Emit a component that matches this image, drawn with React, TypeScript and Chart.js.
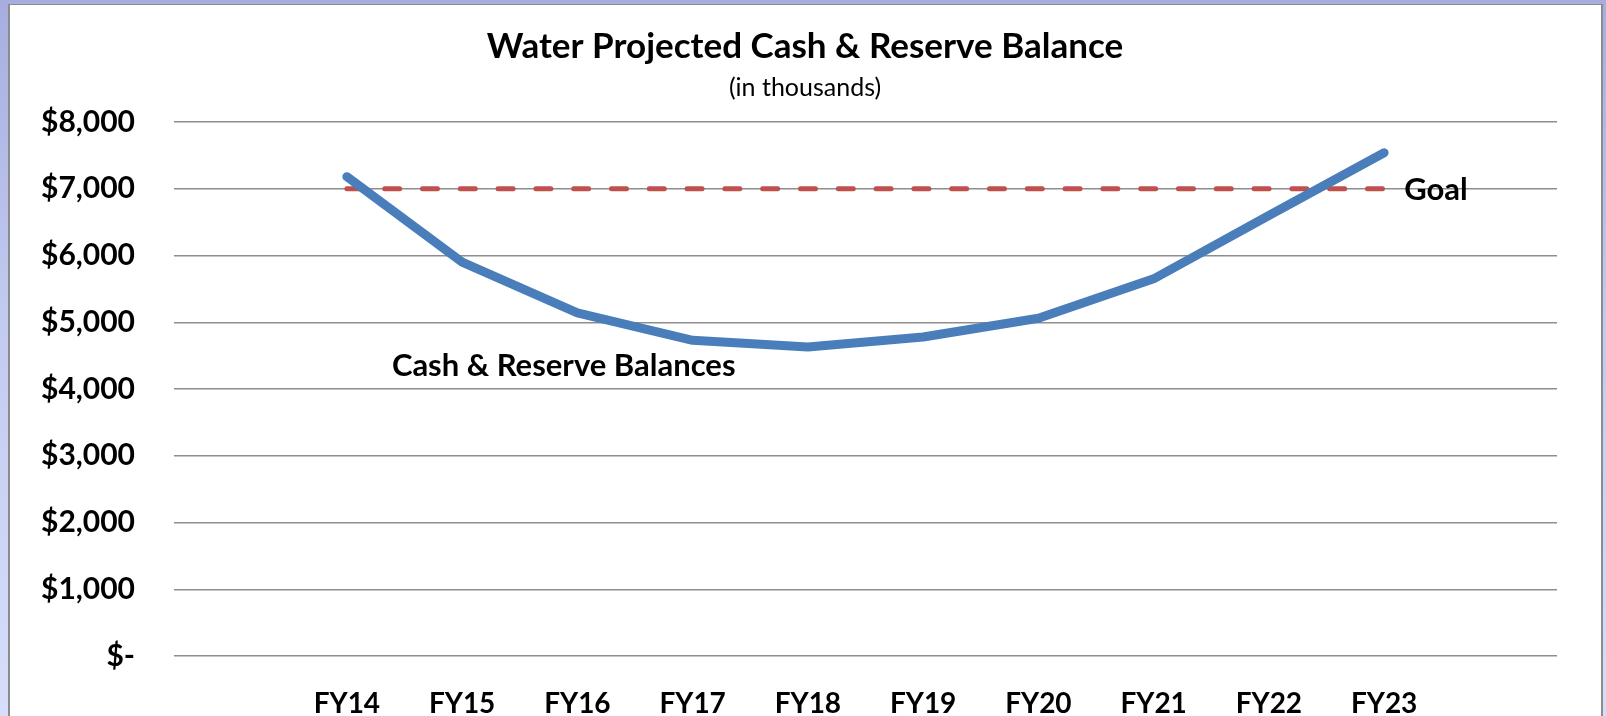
import React, { useEffect, useRef } from "react";
import { Chart, registerables } from "chart.js";

Chart.register(...registerables);

const categories = ["", "FY14", "FY15", "FY16", "FY17", "FY18", "FY19", "FY20", "FY21", "FY22", "FY23", ""];
const cashReserve = [null, 7180, 5900, 5140, 4730, 4630, 4780, 5060, 5650, 6600, 7540, null];
const goal = [null, 7000, 7000, 7000, 7000, 7000, 7000, 7000, 7000, 7000, 7000, null];
const yTickLabels = ["$-", "$1,000", "$2,000", "$3,000", "$4,000", "$5,000", "$6,000", "$7,000", "$8,000"];
const titleText = "Water Projected Cash & Reserve Balance";
const subtitleText = "(in thousands)";
const seriesLabel = "Cash & Reserve Balances";
const goalLabel = "Goal";

const FONT = "Lato, 'Open Sans', 'DejaVu Sans', sans-serif";

const textPlugin = {
  id: "slideText",
  afterDraw(chart: any) {
    const ctx = chart.ctx;
    const xs = chart.scales.x;
    const ys = chart.scales.y;
    ctx.save();
    ctx.fillStyle = "#000";
    ctx.textBaseline = "middle";
    ctx.textAlign = "center";
    ctx.font = `bold 35px ${FONT}`;
    ctx.fillText(titleText, 805, 47);
    ctx.font = `25px ${FONT}`;
    ctx.fillText(subtitleText, 805, 88);
    ctx.textAlign = "left";
    ctx.font = `bold 31px ${FONT}`;
    ctx.fillText(seriesLabel, xs.getPixelForValue(1) + 45, ys.getPixelForValue(4340));
    ctx.font = `bold 31px ${FONT}`;
    ctx.fillText(goalLabel, xs.getPixelForValue(10) + 20, ys.getPixelForValue(6985));
    ctx.restore();
  },
};

export default function App() {
  const ref = useRef<HTMLCanvasElement | null>(null);
  useEffect(() => {
    document.body.style.margin = "0";
    const canvas = ref.current;
    if (!canvas) return;
    const chart = new Chart(canvas, {
      type: "line",
      data: {
        labels: categories,
        datasets: [
          {
            label: goalLabel,
            data: goal,
            borderColor: "#c0504d",
            borderWidth: 5,
            borderDash: [15, 22.8],
            borderCapStyle: "round",
            pointRadius: 0,
            fill: false,
            order: 2,
          },
          {
            label: seriesLabel,
            data: cashReserve,
            borderColor: "#4a7ebb",
            borderWidth: 9,
            borderCapStyle: "round",
            borderJoinStyle: "round",
            pointRadius: 0,
            fill: false,
            order: 1,
          },
        ],
      },
      options: {
        responsive: false,
        animation: false,
        layout: { padding: { left: 0, right: 49, top: 122, bottom: 0 } },
        plugins: {
          legend: { display: false },
          title: { display: false },
          tooltip: { enabled: false },
        },
        scales: {
          x: {
            type: "category",
            offset: true,
            grid: { display: false },
            border: { display: false },
            ticks: {
              autoSkip: false,
              maxRotation: 0,
              padding: 23,
              color: "#000",
              font: { family: FONT, weight: "bold", size: 28 },
            },
            afterFit: (s: any) => {
              s.height = 60;
            },
          },
          y: {
            min: 0,
            max: 8000,
            border: { display: false },
            grid: { color: "#8e8e8e", lineWidth: 1.5, drawTicks: false },
            ticks: {
              stepSize: 1000,
              padding: 39,
              color: "#000",
              font: { family: FONT, weight: "bold", size: 30 },
              callback: (_v: any, i: number) => yTickLabels[i],
            },
            afterFit: (s: any) => {
              s.width = 174;
            },
          },
        },
      },
      plugins: [textPlugin],
    });
    return () => chart.destroy();
  }, []);

  return (
    <div
      style={{
        position: "fixed",
        left: 0,
        top: 0,
        width: 1606,
        height: 716,
        overflow: "hidden",
        background: "linear-gradient(to bottom, #a6aee0 0%, #c2cbf0 45%, #d6defb 100%)",
      }}
    >
      <div
        style={{
          position: "absolute",
          left: 8,
          top: 4,
          width: 1591,
          height: 740,
          background: "#fff",
          border: "2px solid #8c8c8c",
          borderTopWidth: 1,
        }}
      />
      <canvas
        ref={ref}
        width={1606}
        height={716}
        style={{ position: "absolute", left: 0, top: 0, width: 1606, height: 716 }}
      />
    </div>
  );
}
